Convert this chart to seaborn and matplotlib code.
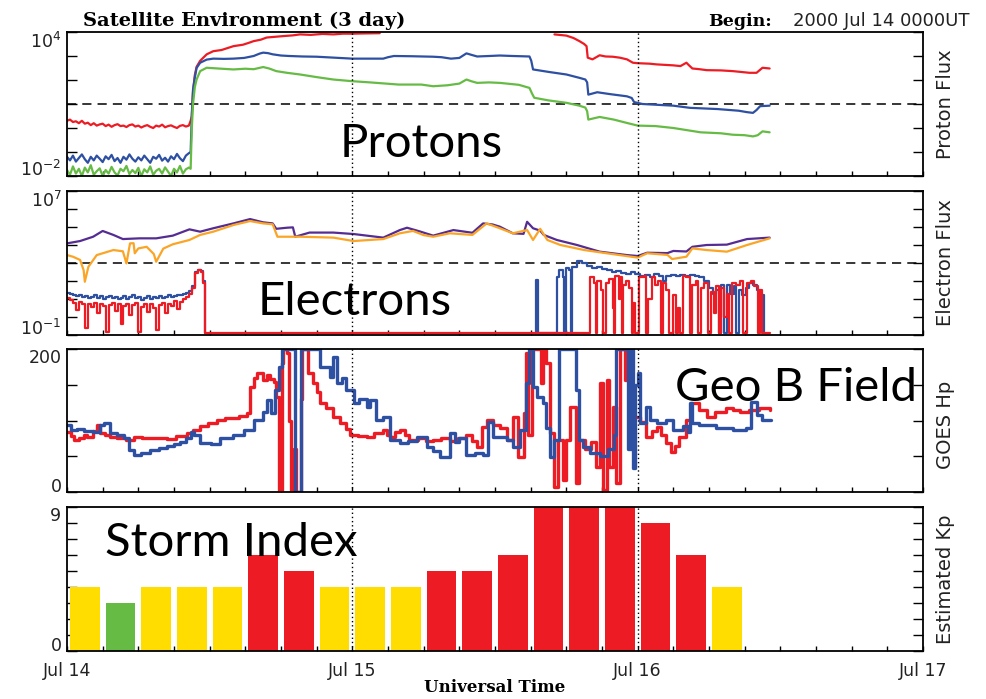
import numpy as np
import pandas as pd
import matplotlib
matplotlib.use("Agg")
import matplotlib.pyplot as plt
from matplotlib.ticker import FixedLocator, MultipleLocator, NullLocator
import seaborn as sns

# ---------------- DATA (hours after 2000 Jul 14 00UT) ----------------
# Proton flux, log10 values
early_step = 0.25
proton_red_early = [0.30, 0.35, 0.25, 0.28, 0.20, 0.30, 0.18, 0.22, 0.12, 0.20,
                    0.10, 0.15, 0.18, 0.08, 0.14, 0.05, 0.12, 0.16, 0.08, 0.10,
                    0.04, 0.12, 0.15, 0.06, 0.10, 0.02, 0.08, 0.12, 0.05, 0.00,
                    0.10, 0.06, 0.14, 0.03, 0.08, 0.11, 0.05, 0.00, 0.09, 0.12,
                    0.06, 0.10]
proton_red_t = [10.4, 10.5, 10.6, 10.75, 10.9, 11.2, 11.75, 12.3, 13.0, 13.5,
                14.0, 14.8, 15.3, 15.7, 16.3, 16.8, 17.5, 18.2, 19.0, 19.6,
                20.5, 21.5, 22.4, 23.2, 24.0, 25.0, 26.3]
proton_red_v = [0.3, 0.5, 1.5, 2.2, 2.55, 2.8, 3.07, 3.2, 3.25, 3.33,
                3.41, 3.47, 3.55, 3.62, 3.68, 3.77, 3.8, 3.83, 3.86, 3.9,
                3.88, 3.92, 3.9, 3.93, 3.93, 3.94, 3.95]
proton_red_late_t = [41.0, 42.0, 42.6, 43.1, 43.5, 43.7, 43.8, 44.2, 44.8, 45.3,
                     45.9, 46.5, 47.1, 47.6, 48.0, 49.0, 49.6, 50.3, 51.0, 51.6,
                     52.1, 52.3, 52.6, 53.2, 53.8, 55.0, 56.0, 56.8, 57.4, 58.0,
                     58.5, 59.1]
proton_red_late_v = [3.90, 3.85, 3.75, 3.62, 3.50, 3.41, 2.93, 2.86, 3.03, 2.98,
                     2.97, 2.93, 2.86, 2.72, 2.70, 2.68, 2.65, 2.63, 2.61, 2.58,
                     2.72, 2.62, 2.48, 2.45, 2.41, 2.40, 2.37, 2.33, 2.30, 2.30,
                     2.51, 2.48]

proton_blue_early = [-1.20, -1.35, -1.15, -1.40, -1.25, -1.10, -1.30, -1.45, -1.20, -1.35,
                     -1.15, -1.28, -1.42, -1.18, -1.30, -1.12, -1.38, -1.25, -1.45, -1.20,
                     -1.32, -1.10, -1.28, -1.40, -1.22, -1.35, -1.15, -1.30, -1.45, -1.20,
                     -1.28, -1.12, -1.36, -1.24, -1.40, -1.18, -1.30, -1.08, -1.26, -1.38,
                     -1.15, -1.05]
proton_blue_t = [10.4, 10.5, 10.6, 10.75, 10.9, 11.2, 11.75, 12.3, 13.2, 14.0,
                 14.9, 15.7, 16.2, 16.5, 16.9, 17.3, 18.0, 18.7, 19.8, 21.0,
                 22.5, 24.0, 25.5, 26.6, 27.0, 27.5, 29.0, 30.8, 31.5, 32.3,
                 33.0, 33.6, 34.0, 34.5, 35.5, 36.4, 37.5, 38.9, 39.05, 39.2,
                 40.6, 42.0, 43.1, 43.6, 43.75, 43.85, 44.6, 45.7, 47.1, 47.5,
                 47.7, 48.4, 49.5, 51.0, 52.4, 54.7, 56.5, 57.2, 57.7, 58.0,
                 58.3, 59.1]
proton_blue_v = [-1.0, 0.6, 1.6, 2.1, 2.5, 2.72, 2.85, 2.89, 2.88, 2.89,
                 2.92, 3.0, 3.1, 3.14, 3.12, 3.07, 3.02, 3.0, 2.98, 2.97,
                 2.93, 2.89, 2.89, 2.89, 2.95, 3.0, 2.99, 2.97, 2.95, 2.89,
                 2.92, 3.11, 3.05, 2.98, 3.0, 3.02, 3.0, 2.98, 2.8, 2.44,
                 2.33, 2.23, 2.09, 2.02, 1.9, 1.39, 1.49, 1.41, 1.32, 1.25,
                 1.08, 1.0, 0.97, 0.93, 0.84, 0.79, 0.72, 0.66, 0.63, 0.75,
                 0.91, 0.93]

proton_green_early = [-1.75, -1.95, -1.60, -1.90, -1.70, -2.00, -1.65, -1.85, -1.55, -1.95,
                      -1.80, -1.68, -2.00, -1.75, -1.90, -1.62, -1.85, -1.98, -1.70, -1.80,
                      -1.58, -1.92, -1.75, -1.88, -1.66, -2.00, -1.72, -1.85, -1.60, -1.95,
                      -1.78, -1.70, -1.90, -1.64, -1.82, -2.00, -1.70, -1.85, -1.58, -1.90,
                      -1.72, -1.65]
proton_green_t = [10.4, 10.5, 10.6, 10.75, 10.9, 11.2, 11.75, 13.0, 14.0, 15.0,
                  15.7, 16.5, 17.0, 17.6, 18.5, 19.6, 21.0, 22.4, 24.0, 25.5,
                  27.9, 29.8, 30.8, 32.0, 33.0, 33.6, 34.0, 34.5, 35.5, 36.4,
                  38.0, 38.9, 39.1, 39.3, 40.5, 42.0, 43.1, 43.6, 43.75, 43.85,
                  44.8, 46.0, 47.1, 48.0, 49.5, 51.0, 53.3, 55.0, 56.0, 57.0,
                  57.7, 58.1, 58.5, 59.1]
proton_green_v = [-1.7, 0.0, 1.0, 1.7, 2.02, 2.37, 2.51, 2.47, 2.44, 2.47,
                  2.45, 2.54, 2.48, 2.37, 2.3, 2.23, 2.12, 2.02, 1.95, 1.9,
                  1.81, 1.81, 1.74, 1.78, 1.85, 2.02, 1.95, 1.88, 1.9, 1.88,
                  1.8, 1.67, 1.45, 1.26, 1.15, 1.05, 0.93, 0.85, 0.7, 0.35,
                  0.46, 0.35, 0.21, 0.10, 0.08, 0.0, -0.18, -0.22, -0.28, -0.3,
                  -0.35, -0.3, -0.14, -0.18]

# Electron flux, log10 values
elec_purple_t = [0.0, 1.1, 2.2, 3.0, 3.9, 4.7, 6.1, 7.5, 8.9, 10.3,
                 11.2, 12.3, 14.0, 15.4, 16.5, 17.3, 17.6, 18.5, 19.0, 19.2,
                 20.4, 22.4, 24.1, 26.6, 28.0, 28.6, 29.7, 30.8, 32.5, 34.1,
                 35.0, 35.8, 36.4, 37.5, 38.4, 38.7, 39.2, 39.8, 40.1, 41.2,
                 42.9, 44.8, 47.1, 48.0, 48.8, 50.5, 51.0, 52.1, 52.6, 53.8,
                 55.5, 57.2, 59.1]
elec_purple_v = [4.09, 4.22, 4.46, 4.78, 4.56, 4.33, 4.37, 4.37, 4.52, 4.87,
                 4.74, 4.93, 5.2, 5.44, 5.26, 5.2, 4.9, 4.96, 4.98, 4.46,
                 4.69, 4.69, 4.61, 4.41, 4.83, 4.96, 4.75, 4.52, 4.83, 4.68,
                 5.2, 5.14, 5.02, 4.65, 4.62, 5.29, 4.93, 4.8, 4.56, 4.28,
                 4.0, 3.63, 3.44, 3.39, 3.57, 3.55, 3.67, 3.64, 3.9, 4.0,
                 4.02, 4.33, 4.41]
elec_orange_t = [0.0, 0.5, 1.1, 1.4, 1.5, 1.8, 2.5, 3.9, 4.7, 4.9,
                 5.0, 5.3, 5.6, 5.7, 6.0, 6.7, 7.3, 7.5, 8.1, 8.9,
                 10.3, 11.2, 12.3, 14.0, 15.4, 16.5, 17.3, 17.7, 19.6, 22.4,
                 24.1, 26.6, 28.0, 29.1, 30.0, 30.8, 32.2, 34.1, 35.3, 36.4,
                 37.5, 38.7, 39.2, 39.8, 40.4, 41.5, 43.5, 45.4, 48.0, 48.8,
                 50.5, 50.9, 52.1, 52.6, 53.8, 55.5, 57.2, 59.1]
elec_orange_v = [3.44, 3.35, 3.17, 2.6, 1.96, 2.79, 3.44, 3.72, 3.65, 3.2,
                 2.98, 4.09, 4.1, 3.54, 3.81, 3.9, 3.5, 3.07, 3.8, 4.04,
                 4.28, 4.56, 4.74, 5.11, 5.33, 5.2, 5.15, 4.46, 4.46, 4.41,
                 4.22, 4.33, 4.65, 4.78, 4.55, 4.46, 4.65, 4.56, 5.2, 4.93,
                 4.65, 4.83, 4.28, 4.9, 4.28, 4.0, 3.72, 3.54, 3.3, 3.54,
                 3.45, 3.22, 3.35, 3.81, 3.72, 3.63, 4.0, 4.37]

elec_blue_early = [1.32, 1.30, 1.25, 1.15, 1.20, 1.10, 1.18, 1.05, 1.12, 1.20,
                   1.08, 1.15, 1.02, 1.10, 1.18, 1.05, 1.12, 0.98, 1.08, 1.15,
                   1.02, 1.10, 1.20, 1.05, 1.12, 0.95, 1.08, 1.15, 1.00, 1.10,
                   1.05, 1.18, 1.08, 1.12, 1.20, 1.10, 1.15, 1.25, 1.22, 1.30,
                   1.35, 1.45, 1.70]
elec_blue_t = [10.75, 11.0, 11.25, 11.45, 11.6]
elec_blue_v = [2.5, 2.6, 2.55, 2.0, -0.9]
elec_blue_late_t = [39.35, 39.45, 39.6, 41.0, 41.2, 41.4, 41.7, 41.8, 42.0, 42.2,
                    42.4, 42.5, 42.9, 43.3, 43.7, 44.2, 44.6, 45.0, 45.4, 45.8,
                    46.2, 46.6, 47.0, 47.4, 47.8, 48.2, 48.6, 49.0, 49.4, 49.8,
                    50.1, 50.4, 50.8, 51.2, 51.6, 52.0, 52.4, 52.8, 53.2, 53.6,
                    54.0, 54.3, 54.6, 54.8, 55.0, 55.3, 55.5, 55.8, 56.1, 56.3,
                    56.5, 56.8, 57.1, 57.4, 57.7, 58.0, 58.3, 58.6]
elec_blue_late_v = [-0.9, 2.05, -0.9, -0.9, 2.2, 2.6, 2.2, -0.9, 2.7, 2.6,
                    -0.9, 2.8, 3.1, 3.0, 2.85, 2.7, 2.8, 2.65, 2.6, 2.5,
                    2.55, 2.45, 2.4, 2.5, 2.4, 2.3, 2.35, 2.2, 2.4, 2.3,
                    2.0, 2.3, 2.35, 2.3, 2.35, 2.3, 2.35, 2.3, 2.25, 2.0,
                    1.6, 1.3, 1.5, -0.9, 1.8, -0.9, 1.8, 1.3, 1.7, -0.9,
                    1.5, 1.2, 1.6, 1.9, 1.8, 1.5, 1.2, -0.9]

elec_red_early = [1.05, 0.95, 0.80, 0.40, 0.85, 0.70, -0.60, 0.75, 0.55, 0.80,
                  0.20, 0.70, 0.60, -0.85, 0.65, 0.80, 0.35, 0.70, -0.40, 0.60,
                  0.75, 0.10, 0.65, 0.80, -0.85, 0.55, 0.70, 0.30, 0.75, 0.50,
                  -0.70, 0.65, 0.80, 0.20, 0.70, 0.60, 0.90, 0.45, 0.85, 1.00,
                  1.10, 1.30, 1.60]
elec_red_t = [10.75, 11.0, 11.25, 11.45, 11.6, 44.0, 44.3, 44.5, 44.6, 44.9,
              45.1, 45.3, 45.6, 45.9, 46.0, 46.1, 46.4, 46.5, 46.7, 46.8,
              47.0, 47.3, 47.5, 47.6, 47.8, 48.1, 48.5, 48.7, 48.9, 49.2,
              49.5, 49.7, 50.0, 50.1, 50.4, 50.6, 51.0, 51.2, 51.4, 51.6,
              51.8, 52.1, 52.4, 52.6, 52.9, 53.1, 53.3, 53.6, 53.9, 54.2,
              54.4, 54.6, 54.8, 55.0, 55.3, 55.5, 55.7, 55.9, 56.3, 56.6,
              56.9, 57.2, 57.5, 57.8, 58.1, 58.3, 58.5, 59.1]
elec_red_v = [2.45, 2.6, 2.5, 1.9, -0.9, 2.2, 1.9, -0.9, 2.0, 1.5,
              -0.9, 1.9, 2.1, 0.5, -0.9, 2.3, 1.0, 2.2, -0.9, 1.8,
              2.0, 1.6, -0.9, 0.8, -0.9, 2.2, 2.3, -0.9, 1.0, 2.2,
              1.8, 2.0, -0.9, 1.9, 1.5, -0.9, 1.2, -0.9, 0.5, -0.9,
              2.3, 2.2, -0.9, 1.8, 2.0, -0.9, 1.6, 1.9, -0.9, 1.4,
              0.2, 1.7, -0.9, 1.6, 0.0, 1.3, -0.9, 1.9, 1.8, 2.0,
              -0.9, 1.9, 2.0, 1.7, -0.9, 1.5, -0.9, -0.9]

# GOES Hp (nT)
hp_red_t = [0.0, 0.3, 0.56, 1.0, 1.4, 1.7, 2.2, 2.5, 2.8, 3.2,
            3.6, 4.2, 5.0, 5.6, 6.3, 7.0, 7.7, 8.4, 9.2, 10.1,
            10.6, 11.2, 11.9, 12.6, 13.3, 14.0, 14.5, 15.1, 15.4, 15.7,
            16.0, 16.5, 16.8, 17.1, 17.4, 17.6, 17.8, 18.1, 18.2, 18.5,
            18.7, 18.8, 19.1, 19.3, 19.7, 19.8, 20.0, 20.3, 20.7, 21.0,
            21.3, 21.8, 22.4, 23.0, 23.5, 23.8, 24.5, 25.2, 25.8, 26.6,
            26.9, 27.2, 27.6, 28.0, 28.4, 28.8, 29.5, 30.2, 30.8, 31.5,
            32.2, 32.9, 33.6, 34.1, 34.5, 34.9, 35.3, 35.8, 36.4, 37.0,
            37.5, 37.9, 38.4, 38.6, 38.8, 39.1, 39.5, 39.9, 40.0, 40.3,
            40.6, 41.0, 41.3, 41.7, 42.0, 42.3, 42.8, 43.1, 43.6, 44.1,
            44.5, 44.8, 45.1, 45.4, 45.6, 45.9, 46.2, 46.5, 46.9, 47.3,
            47.7, 48.2, 48.7, 49.2, 49.6, 50.0, 50.4, 50.8, 51.1, 51.5,
            52.1, 52.5, 53.2, 53.8, 54.5, 55.4, 56.0, 56.6, 57.4, 58.2,
            59.1]
hp_red_v = [84, 79, 73, 76, 80, 77, 86, 94, 82, 80,
            77, 76, 73, 77, 75, 75, 76, 74, 78, 82,
            87, 92, 96, 101, 103, 104, 106, 110, 147, 160,
            166, 157, 164, 158, 154, 133, 0, 180, 200, 195,
            100, 0, 60, 0, 130, 200, 200, 166, 153, 140,
            124, 117, 105, 96, 88, 80, 78, 77, 82, 87,
            80, 77, 84, 87, 80, 73, 75, 72, 73, 76,
            71, 76, 80, 72, 63, 91, 101, 94, 89, 73,
            105, 49, 110, 194, 80, 200, 200, 152, 200, 180,
            82, 7, 73, 17, 73, 119, 12, 73, 60, 70,
            35, 152, 3, 157, 35, 119, 12, 200, 157, 91,
            105, 98, 77, 85, 91, 80, 68, 56, 65, 77,
            101, 124, 115, 105, 112, 117, 114, 112, 115, 117,
            115]
hp_blue_t = [0.0, 0.3, 0.8, 1.4, 2.2, 2.8, 3.1, 3.6, 4.2, 4.8,
             5.2, 5.6, 6.2, 7.0, 7.7, 8.4, 9.0, 9.5, 10.0, 10.4,
             10.7, 11.2, 12.1, 12.9, 14.0, 14.9, 15.7, 16.5, 16.8, 17.2,
             17.5, 17.8, 18.1, 19.1, 19.2, 19.5, 19.7, 20.5, 21.3, 22.1,
             22.4, 22.7, 23.1, 23.5, 24.1, 24.6, 25.2, 25.5, 26.0, 26.6,
             27.2, 28.0, 28.7, 29.4, 30.3, 30.8, 31.4, 32.2, 32.6, 33.0,
             33.6, 34.3, 35.0, 35.4, 35.8, 36.4, 37.0, 37.5, 38.1, 38.6,
             38.9, 39.2, 39.5, 40.0, 40.3, 40.6, 41.0, 41.4, 42.6, 42.8,
             43.1, 43.4, 44.0, 44.8, 45.5, 46.0, 46.2, 47.0, 47.2, 47.4,
             47.6, 47.8, 48.0, 48.2, 48.7, 49.0, 49.6, 50.4, 51.0, 51.8,
             52.2, 52.4, 52.6, 53.2, 54.6, 56.0, 57.1, 57.5, 58.0, 58.5,
             59.2]
hp_blue_v = [94, 87, 88, 86, 84, 94, 96, 82, 80, 75,
             59, 52, 55, 59, 62, 64, 67, 70, 76, 84,
             80, 68, 67, 75, 80, 87, 101, 112, 129, 110,
             143, 175, 200, 200, 0, 0, 200, 200, 175, 161,
             189, 152, 160, 143, 124, 130, 119, 128, 101, 105,
             73, 68, 72, 77, 63, 58, 49, 82, 70, 75,
             52, 54, 52, 98, 77, 77, 73, 63, 87, 152,
             200, 147, 133, 124, 90, 49, 73, 200, 200, 143,
             73, 63, 55, 50, 60, 80, 200, 200, 60, 200,
             34, 150, 166, 96, 119, 101, 96, 101, 87, 92,
             84, 124, 96, 94, 89, 87, 90, 126, 108, 101,
             101]

# Estimated Kp (3-hour bins)
kp_hour = [1.5, 4.5, 7.5, 10.5, 13.5, 16.5, 19.5, 22.5, 25.5, 28.5,
           31.5, 34.5, 37.5, 40.5, 43.5, 46.5, 49.5, 52.5, 55.5]
kp_value = [4, 3, 4, 4, 4, 6, 5, 4, 4, 4, 5, 5, 6, 9, 9, 9, 8, 6, 4]

day_ticks = [0, 24, 48, 72]
day_labels = ["Jul 14", "Jul 15", "Jul 16", "Jul 17"]

# ---------------- STYLE ----------------
sns.set_style("white")
plt.rcParams["font.family"] = ["DejaVu Sans"]
plt.rcParams["axes.linewidth"] = 1.3
plt.rcParams["axes.edgecolor"] = "black"

RED = "#ED1C24"
BLUE = "#2E50A2"
GREEN = "#66BB45"
PURPLE = "#552D92"
ORANGE = "#FBA526"
YELLOW = "#FFDD00"
TXT = "#222222"

W, H = 987, 699
fig = plt.figure(figsize=(W / 100, H / 100), dpi=100)


def rect(top, bottom, left=67, right=923):
    return [left / W, 1 - bottom / H, (right - left) / W, (bottom - top) / H]


ax1 = fig.add_axes(rect(32, 176))
ax2 = fig.add_axes(rect(191, 335))
ax3 = fig.add_axes(rect(349, 492))
ax4 = fig.add_axes(rect(507, 651))


def line(ax, t, v, color, lw, steps=False, log=False, z=2):
    vals = np.power(10.0, np.asarray(v, dtype=float)) if log else np.asarray(v, dtype=float)
    df = pd.DataFrame({"t": np.asarray(t, dtype=float), "v": vals})
    kw = {"drawstyle": "steps-post"} if steps else {}
    sns.lineplot(data=df, x="t", y="v", ax=ax, color=color, linewidth=lw,
                 estimator=None, sort=False, legend=False, zorder=z, **kw)


def early_t(vals):
    return list(np.arange(len(vals)) * early_step)


# ---- Panel 1: protons
line(ax1, early_t(proton_red_early) + proton_red_t, proton_red_early + proton_red_v, RED, 1.6, log=True)
line(ax1, proton_red_late_t, proton_red_late_v, RED, 1.6, log=True)
line(ax1, early_t(proton_blue_early) + proton_blue_t, proton_blue_early + proton_blue_v, BLUE, 1.6, log=True)
line(ax1, early_t(proton_green_early) + proton_green_t, proton_green_early + proton_green_v, GREEN, 1.6, log=True)
ax1.set_yscale("log")
ax1.set_ylim(1e-2, 1e4)
ax1.axhline(10, color="black", lw=1.1, ls=(0, (6, 4)), zorder=1.5)

# ---- Panel 2: electrons
line(ax2, elec_purple_t, elec_purple_v, PURPLE, 1.6, log=True)
line(ax2, elec_orange_t, elec_orange_v, ORANGE, 1.6, log=True)
line(ax2, early_t(elec_blue_early) + elec_blue_t, elec_blue_early + elec_blue_v, BLUE, 1.6, steps=True, log=True)
line(ax2, elec_blue_late_t, elec_blue_late_v, BLUE, 1.6, steps=True, log=True)
line(ax2, early_t(elec_red_early) + elec_red_t, elec_red_early + elec_red_v, RED, 1.6, steps=True, log=True)
ax2.set_yscale("log")
ax2.set_ylim(1e-1, 1e7)
ax2.axhline(1e3, color="black", lw=1.1, ls=(0, (6, 4)), zorder=1.5)

# ---- Panel 3: GOES Hp
line(ax3, hp_red_t, hp_red_v, RED, 2.4, steps=True)
line(ax3, hp_blue_t, hp_blue_v, BLUE, 2.4, steps=True)
ax3.set_ylim(0, 200)

# ---- Panel 4: Kp bars
kp_level = ["quiet" if k < 4 else ("active" if k == 4 else "storm") for k in kp_value]
sns.barplot(x=kp_hour, y=kp_value, hue=kp_level, orient="x",
            palette={"quiet": GREEN, "active": YELLOW, "storm": RED},
            native_scale=True, width=2.5 / 3, dodge=False, saturation=1,
            legend=False, linewidth=0, ax=ax4)
ax4.set_ylim(0, 9)

# ---- common axis styling
for ax in (ax1, ax2, ax3, ax4):
    ax.set_xlim(0, 72)
    ax.set_xlabel("")
    ax.set_ylabel("")
    ax.xaxis.set_major_locator(FixedLocator(day_ticks))
    ax.xaxis.set_minor_locator(MultipleLocator(3))
    ax.yaxis.set_minor_locator(NullLocator())
    ax.tick_params(axis="x", which="both", direction="in", length=3.4, width=1,
                   color="black", bottom=True, top=False, labelbottom=False)
    ax.tick_params(axis="y", which="both", direction="in", length=7, width=1,
                   color="black", left=True, right=True, labelleft=True,
                   labelright=False, labelsize=12.5, labelcolor=TXT, pad=4)
    for s in ax.spines.values():
        s.set_color("black")
        s.set_linewidth(1.3)
    for d in (24, 48):
        ax.axvline(d, color="black", lw=1.0, ls=(0, (1, 2)), zorder=6)
    ax.grid(False)


def set_yt(ax, ticks, top_label, bottom_label):
    labels = [bottom_label] + [""] * (len(ticks) - 2) + [top_label]
    ax.set_yticks(ticks, labels)
    tl = ax.get_yticklabels()
    tl[0].set_verticalalignment("baseline")
    tl[-1].set_verticalalignment("top")


set_yt(ax1, [10.0 ** k for k in range(-2, 5)], r"$10^{4}$", r"$10^{-2}$")
set_yt(ax2, [10.0 ** k for k in range(-1, 8)], r"$10^{7}$", r"$10^{-1}$")
set_yt(ax3, [0, 50, 100, 150, 200], "200", "0")
set_yt(ax4, list(range(10)), "9", "0")

ax4.set_xticks(day_ticks, day_labels)
ax4.tick_params(axis="x", which="major", labelbottom=True, labelsize=12.5,
                labelcolor=TXT, pad=8)

# ---- texts


def fx(x):
    return x / W


def fy(y):
    return 1 - y / H


fig.text(fx(83), fy(26), "Satellite Environment (3 day)", family="DejaVu Serif",
         weight="bold", fontsize=14, ha="left", va="baseline", color="black")
fig.text(fx(708), fy(26), "Begin:", family="DejaVu Serif", weight="bold",
         fontsize=12.5, ha="left", va="baseline", color="black")
fig.text(fx(970), fy(26), "2000 Jul 14 0000UT", fontsize=13, ha="right",
         va="baseline", color=TXT)
fig.text(fx(495), fy(692), "Universal Time", family="DejaVu Serif", weight="bold",
         fontsize=12, ha="center", va="baseline", color="black")

for label, yc in (("Proton Flux", 104), ("Electron Flux", 263),
                  ("GOES Hp", 425), ("Estimated Kp", 579)):
    fig.text(fx(946), fy(yc), label, rotation=90, fontsize=14, ha="center",
             va="center", color=TXT)

for label, x, y in (("Protons", 340, 157), ("Electrons", 258, 315),
                    ("Geo B Field", 675, 401), ("Storm Index", 105, 556)):
    fig.text(fx(x), fy(y), label, family="Lato", fontsize=34, ha="left",
             va="baseline", color="black", zorder=10)

fig.savefig("out.png", dpi=100)
